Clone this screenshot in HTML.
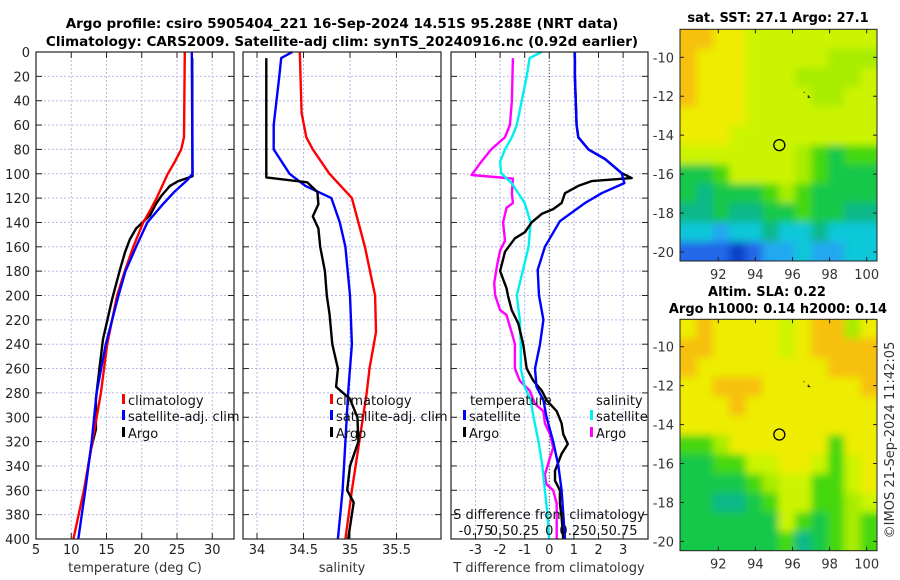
<!DOCTYPE html>
<html><head><meta charset="utf-8"><style>
html,body{margin:0;padding:0;background:#fff;}
svg{display:block;font-family:"DejaVu Sans","Liberation Sans",sans-serif;}
</style></head><body>
<svg id="chart" width="900" height="580" viewBox="0 0 900 580" xmlns="http://www.w3.org/2000/svg">
<defs>
<filter id="blur" x="-5%" y="-5%" width="110%" height="110%"><feGaussianBlur stdDeviation="4"/></filter>
<clipPath id="clipTop"><rect x="680" y="29.3" width="197" height="231.7"/></clipPath>
<clipPath id="clipBot"><rect x="680" y="319.3" width="197" height="231.4"/></clipPath>
</defs>
<text x="342" y="28" font-size="13.5" font-weight="bold" text-anchor="middle">Argo profile: csiro 5905404_221 16-Sep-2024 14.51S 95.288E (NRT data)</text>
<text x="342" y="46" font-size="13.5" font-weight="bold" text-anchor="middle">Climatology: CARS2009. Satellite-adj clim: synTS_20240916.nc (0.92d earlier)</text>
<text x="778" y="22" font-size="13" font-weight="bold" text-anchor="middle">sat. SST: 27.1 Argo: 27.1</text>
<text x="767" y="296" font-size="13" font-weight="bold" text-anchor="middle">Altim. SLA: 0.22</text>
<text x="778" y="313" font-size="13" font-weight="bold" text-anchor="middle">Argo h1000: 0.14 h2000: 0.14</text>
<text transform="translate(894,440) rotate(-90)" font-size="13" fill="#333" text-anchor="middle">©IMOS 21-Sep-2024 11:42:05</text>
<g id="g"></g>
</svg>
<script>
// ---- data ----
const depthTicks = [0,20,40,60,80,100,120,140,160,180,200,220,240,260,280,300,320,340,360,380,400];
const tempTicks = [5,10,15,20,25,30];
const salTicks = [34,34.5,35,35.5];
const tdiffTicks = [-3,-2,-1,0,1,2,3];
const sdiffTickLabels = ["-0.75","0.5","0.25","0","0.25","0.5","0.75"];
const tempClim = [[0,26.1],[70,26.0],[80,25.6],[90,24.7],[100,23.7],[110,22.9],[120,22.1],[130,21.2],[140,20.2],[160,18.8],[180,17.6],[200,16.5],[240,15.1],[280,14.2],[320,13.0],[360,11.8],[400,10.3]];
const tempSat = [[0,27.1],[100,27.2],[105,26.5],[115,24.6],[125,23.0],[140,20.8],[160,19.2],[180,17.7],[200,16.7],[240,14.9],[280,13.6],[320,12.9],[360,12.0],[400,11.0]];
const tempArgo = [[5,27.15],[102,27.2],[106,25.2],[110,24.0],[118,22.8],[125,22.0],[134,21.2],[145,19.2],[154,18.3],[165,17.6],[179,16.9],[203,15.8],[236,14.5],[260,14.0],[285,13.5],[310,13.5],[326,12.8],[340,12.4]];
const salClim = [[0,34.46],[50,34.48],[70,34.53],[80,34.6],[100,34.78],[120,35.02],[160,35.16],[200,35.27],[230,35.28],[260,35.21],[280,35.18],[320,35.1],[360,35.02],[400,34.95]];
const salSat = [[0,34.38],[5,34.26],[20,34.24],[60,34.18],[80,34.18],[100,34.35],[110,34.52],[120,34.8],[140,34.89],[160,34.95],[200,35.0],[240,35.02],[280,34.98],[320,34.95],[360,34.92],[400,34.87]];
const salArgo = [[5,34.1],[103,34.1],[107,34.54],[115,34.65],[125,34.66],[135,34.6],[145,34.66],[160,34.68],[180,34.73],[200,34.75],[215,34.78],[240,34.81],[260,34.87],[275,34.85],[285,35.0],[300,35.08],[320,35.09],[340,35.0],[360,34.97],[370,35.04],[390,35.0],[400,34.98]];
const tdiffSat = [[0,1.04],[20,1.04],[60,1.11],[70,1.18],[80,1.59],[88,2.27],[99.5,2.94],[107.7,3.05],[116,2.13],[124,1.45],[139,0.43],[160,-0.18],[179,-0.47],[200,-0.42],[220,-0.24],[240,-0.38],[260,-0.58],[275,-0.52],[286,-0.24],[300,-0.11],[320,0.16],[340,0.37],[360,0.5],[380,0.57],[400,0.64]];
const tdiffArgo = [[5,1.04],[20,1.04],[60,1.11],[70,1.18],[80,1.59],[88,2.27],[99.5,2.94],[103.6,3.35],[106,1.72],[110,1.18],[116,0.64],[124,0.5],[129,0.16],[133,-0.31],[140,-0.72],[148,-0.99],[153,-1.4],[164,-1.8],[180,-2.0],[194,-1.74],[201,-1.67],[212,-1.53],[223,-1.26],[240,-1.06],[260,-0.92],[270,-0.65],[278,-0.31],[286,-0.11],[295,0.3],[305,0.5],[314,0.57],[322,0.75],[330,0.5],[344,0.23],[352,0.23],[360,0.43],[371,0.43],[382,0.5],[400,0.57]];
const sdiffSat = [[0,-0.078],[5,-0.2],[20,-0.23],[60,-0.33],[70,-0.38],[80,-0.45],[90,-0.5],[99.5,-0.49],[108,-0.38],[124,-0.25],[140,-0.19],[160,-0.21],[180,-0.27],[200,-0.33],[220,-0.3],[240,-0.29],[260,-0.29],[275,-0.25],[286,-0.19],[300,-0.16],[320,-0.11],[340,-0.07],[360,-0.045],[380,-0.018],[400,-0.003]];
const sdiffArgo = [[5,-0.37],[40,-0.38],[60,-0.4],[70,-0.45],[80,-0.59],[90,-0.69],[101,-0.79],[104,-0.37],[116,-0.38],[124,-0.37],[128,-0.435],[140,-0.47],[155,-0.45],[163,-0.5],[175,-0.53],[190,-0.56],[200,-0.55],[212,-0.5],[216,-0.435],[231,-0.38],[240,-0.35],[260,-0.35],[270,-0.3],[278,-0.2],[289,-0.145],[295,-0.06],[305,-0.045],[314,0.008],[325,0.04],[333,0.008],[347,-0.045],[355,-0.03],[360,0.04],[371,0.075],[400,0.075]];
const mapLonTicks = [92,94,96,98,100];
const mapLatTicks = [-10,-12,-14,-16,-18,-20];
const sstGrid = [
[10,10,9,9,8,8,8,8,8,8,8,8],
[10,9,9,9,8,8,8,8,8,7,7,7],
[10,9,9,9,8,8,8,7,7,7,7,8],
[10,9,9,9,8,8,8,8,7,7,8,8],
[9,9,9,9,8,8,8,8,8,8,8,8],
[9,9,9,8,8,8,8,8,8,8,8,8],
[8,8,8,8,8,8,8,7,6,5,6,6],
[5,5,6,8,8,8,8,7,6,5,5,5],
[5,4,5,5,5,6,7,6,5,5,5,5],
[4,4,5,4,4,5,5,6,5,5,4,4],
[3,3,2,3,3,4,3,3,4,3,3,3],
[1,1,1,0,1,2,2,3,2,2,3,3]];
const slaGrid = [
[9,10,9,9,9,9,8,9,10,10,7,9],
[10,10,9,9,9,9,8,9,10,10,10,10],
[10,9,9,9,9,9,9,9,9,10,10,10],
[9,9,10,10,10,9,9,9,9,9,9,10],
[9,9,9,10,9,9,9,9,9,9,9,9],
[9,9,9,9,9,9,9,9,9,9,9,9],
[6,6,7,9,9,9,9,9,9,6,9,9],
[5,5,6,6,8,8,9,9,8,6,8,9],
[5,5,5,5,6,7,8,8,6,6,8,9],
[5,5,4,4,5,6,8,8,6,6,7,8],
[5,5,5,5,5,5,8,6,5,6,7,6],
[5,5,5,5,5,5,6,4,5,6,7,6]];
const argoLon = 95.29, argoLat = -14.51;

// ---- helpers ----
const NS="http://www.w3.org/2000/svg";
const G=document.getElementById('g');
function mk(tag,attrs,parent){const e=document.createElementNS(NS,tag);for(const k in attrs)e.setAttribute(k,attrs[k]);(parent||G).appendChild(e);return e;}
const Y0=52,Y1=539;
const yD=d=>Y0+d*(Y1-Y0)/400;
const panels=[
 {x0:36,x1:234,sx:v=>36+(v-5)*7.05,ticks:tempTicks,name:'temperature-panel'},
 {x0:243,x1:441,sx:v=>257+(v-34)*93,ticks:salTicks,name:'salinity-panel'},
 {x0:451,x1:648,sx:v=>549.3+v*24.6,ticks:tdiffTicks,name:'difference-panel'}];

panels.forEach((p,pi)=>{
 const grp=mk('g',{});
 
 
 p.ticks.forEach(t=>{const x=p.sx(t);
  const l=mk('line',{x1:x,x2:x,y1:Y0,y2:Y1,stroke:'#b4bde8','stroke-width':1,'stroke-dasharray':'2,2'},grp);
  
  mk('line',{x1:x,x2:x,y1:Y1,y2:Y1-6,stroke:'#222'},grp);
  mk('line',{x1:x,x2:x,y1:Y0,y2:Y0+6,stroke:'#222'},grp);
  const tx=mk('text',{x:x,y:554,'font-size':13,'text-anchor':'middle',fill:'#222'},grp);tx.textContent=String(t);
  
 });
 depthTicks.forEach(d=>{const y=yD(d);
  if(d>0&&d<400){const l=mk('line',{x1:p.x0,x2:p.x1,y1:y,y2:y,stroke:'#b4bde8','stroke-width':1,'stroke-dasharray':'2,2'},grp);
   }
  mk('line',{x1:p.x0,x2:p.x0+6,y1:y,y2:y,stroke:'#222'},grp);
  mk('line',{x1:p.x1,x2:p.x1-6,y1:y,y2:y,stroke:'#222'},grp);
  if(pi===0){const tx=mk('text',{x:30,y:y+5,'font-size':13,'text-anchor':'end',fill:'#222'},grp);tx.textContent=String(d);
   }
 });
});
{const z=mk('line',{x1:panels[2].sx(0),x2:panels[2].sx(0),y1:Y0,y2:Y1,stroke:'#553',"stroke-width":1,'stroke-dasharray':'1,2'});
 }

function series(data,p,scale,color,name){
 const pts=data.map(a=>p.sx(a[1]*scale).toFixed(1)+','+yD(a[0]).toFixed(1)).join(' ');
 const e=mk('polyline',{points:pts,fill:'none',stroke:color,'stroke-width':2.4,'stroke-linejoin':'round'});
 
 
}
series(tempArgo,panels[0],1,'#000','temp-argo-line');
series(tempClim,panels[0],1,'#ff0000','temp-climatology-line');
series(tempSat,panels[0],1,'#0000ff','temp-satellite-line');
series(salClim,panels[1],1,'#ff0000','sal-climatology-line');
series(salSat,panels[1],1,'#0000ff','sal-satellite-line');
series(salArgo,panels[1],1,'#000','sal-argo-line');
series(sdiffArgo,panels[2],4,'#ff00ff','sdiff-argo-line');
series(sdiffSat,panels[2],4,'#00f0f0','sdiff-satellite-line');
series(tdiffArgo,panels[2],1,'#000','tdiff-argo-line');
series(tdiffSat,panels[2],1,'#0000ff','tdiff-satellite-line');

panels.forEach(p=>{const r=mk('rect',{x:p.x0,y:Y0,width:p.x1-p.x0,height:Y1-Y0,fill:'none',stroke:'#222','stroke-width':1.2});
 });

function txt(s,x,y,size,anchor,name,extra){const t=mk('text',Object.assign({x:x,y:y,'font-size':size,'text-anchor':anchor||'start',fill:'#111'},extra||{}));t.textContent=s;
 return t;}
function leg(x,y,color,label,name){const b=mk('rect',{x:x,y:y-11,width:3,height:10,fill:color});
 
 txt(label,x+6,y,13,'start',name);}
txt('temperature (deg C)',135,572,13,'middle','x-axis-title-temperature',{fill:'#333'});
txt('salinity',342,572,13,'middle','x-axis-title-salinity',{fill:'#333'});
txt('T difference from climatology',549,572,13,'middle','x-axis-title-tdiff',{fill:'#333'});
leg(122,405,'#ff0000','climatology','legend-climatology');
leg(122,421,'#0000ff','satellite-adj. clim','legend-satellite');
leg(122,438,'#000','Argo','legend-argo');
leg(330,405,'#ff0000','climatology','legend2-climatology');
leg(330,421,'#0000ff','satellite-adj. clim','legend2-satellite');
leg(330,438,'#000','Argo','legend2-argo');
txt('temperature',470,405,13,'start','legend-temperature-header');
txt('salinity',596,405,13,'start','legend-salinity-header');
leg(463,421,'#0000ff','satellite','legend-t-satellite');
leg(463,438,'#000','Argo','legend-t-argo');
leg(590,421,'#00f0f0','satellite','legend-s-satellite');
leg(590,438,'#ff00ff','Argo','legend-s-argo');
txt('S difference from climatology',549,519,13,'middle','s-diff-axis-title');
tdiffTicks.forEach((t,i)=>{txt(sdiffTickLabels[i],panels[2].sx(t),535,13,'middle','s-diff-tick-label');});

// maps
const cmap=['#1040c8','#2068e8','#20a8f0','#10c8d8','#10b888','#18c848','#44d810','#a8ec00','#ccf400','#eeec00','#f6c010'];
const mapX0=680,mapX1=877;
const lon2x=l=>718.3+(l-92)*18.55;
function drawMap(grid,y0,y1,latRef,name,clip){
 const lat2y=la=>latRef+(-10-la)*19.47;
 const grp=mk('g',{});
 const cg=mk('g',{'clip-path':'url(#'+clip+')'},grp);
 const bg=mk('g',{filter:'url(#blur)'},cg);
 const rows=grid.length,cols=grid[0].length,cw=(mapX1-mapX0)/cols,ch=(y1-y0)/rows;
 grid.forEach((row,r)=>row.forEach((v,c)=>{
  const x=mapX0+c*cw,y=y0+r*ch;
  const ex0=c===0?-10:0, ex1=c===cols-1?10:0, ey0=r===0?-10:0, ey1=r===rows-1?10:0;
  const cell=mk('rect',{x:(x+ex0).toFixed(2),y:(y+ey0).toFixed(2),width:(cw+0.6-ex0+ex1).toFixed(2),height:(ch+0.6-ey0+ey1).toFixed(2),fill:cmap[v]},bg);
  
  
 }));
 mk('rect',{x:mapX0,y:y0,width:mapX1-mapX0,height:y1-y0,fill:'none',stroke:'#222','stroke-width':1},grp);
 mapLonTicks.forEach(l=>{const x=lon2x(l);mk('line',{x1:x,x2:x,y1:y1,y2:y1-4,stroke:'#222'},grp);mk('line',{x1:x,x2:x,y1:y0,y2:y0+4,stroke:'#222'},grp);
  const t=mk('text',{x:x,y:y1+18,'font-size':13,'text-anchor':'middle',fill:'#333'},grp);t.textContent=String(l);
  });
 mapLatTicks.forEach(la=>{const y=lat2y(la);mk('line',{x1:mapX0,x2:mapX0+4,y1:y,y2:y,stroke:'#222'},grp);mk('line',{x1:mapX1,x2:mapX1-4,y1:y,y2:y,stroke:'#222'},grp);
  const t=mk('text',{x:674,y:y+5,'font-size':13,'text-anchor':'end',fill:'#333'},grp);t.textContent=String(la);
  });
 const c=mk('circle',{cx:lon2x(argoLon),cy:lat2y(argoLat),r:5.5,fill:'none',stroke:'#000','stroke-width':1.3},grp);
 
 mk('path',{d:`M${lon2x(96.6)} ${lat2y(-11.8)}h1 M${lon2x(96.85)} ${lat2y(-11.95)}v2h2`,stroke:'#000','stroke-width':1,fill:'none'},grp);
}
drawMap(sstGrid,29.3,261,57.3,'sst-map','clipTop');
drawMap(slaGrid,319.3,550.7,346.7,'sla-map','clipBot');
</script>
</body></html>
